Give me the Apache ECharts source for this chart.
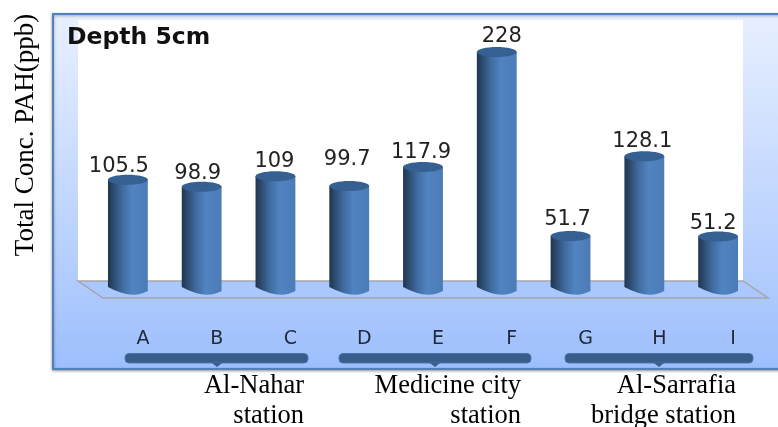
<!DOCTYPE html>
<html>
<head>
<meta charset="utf-8">
<style>
    html, body { margin: 0; padding: 0; background: #fff; }
    #chart { width: 778px; height: 427px; }
</style>
<script src="https://cdn.jsdelivr.net/npm/echarts@6/dist/echarts.min.js"></script>
</head>
<body>
<div id="chart"></div>
<script>
    var categories = ['A', 'B', 'C', 'D', 'E', 'F', 'G', 'H', 'I']
    var values = [105.5, 98.9, 109, 99.7, 117.9, 228, 51.7, 128.1, 51.2]
    var valueLabels = ['105.5', '98.9', '109', '99.7', '117.9', '228', '51.7', '128.1', '51.2']

    var serif = '"Liberation Serif", serif'
    var sans = '"DejaVu Sans", sans-serif'

    // the labels were placed by hand in the original, so each has its own nudge
    var labelDx = [-9, -4, -1, -2, -2, 5, -3, -2, -5]
    var labelDy = [-13, -13, -15, -26, -14, -15, -16, -15, -13]

    // 圆柱: body + top cap, from the axis scales
    function renderCylinder(params, api) {
        var i = api.value(0)
        var top = api.coord([i, api.value(1)])
        var base = api.coord([i, 0])
        var w = api.size([1, 0])[0] * 0.54
        var x = top[0] - w / 2
        var ry = 5
        var body = 'M' + x + ' ' + top[1] +
            'L' + x + ' ' + (base[1] - 3) +
            'Q' + (top[0] + 4) + ' ' + (base[1] + 2 * ry) + ' ' + (x + w) + ' ' + (base[1] + 1) +
            'L' + (x + w) + ' ' + top[1] + 'Z'
        return {
            type: 'group',
            children: [
                {
                    type: 'path',
                    shape: { pathData: body },
                    style: {
                        fill: new echarts.graphic.LinearGradient(0, 0, 1, 0, [
                            { offset: 0, color: '#20364f' },
                            { offset: 0.35, color: '#3f6a9e' },
                            { offset: 0.6, color: '#5083c0' },
                            { offset: 1, color: '#4c7cb8' }
                        ])
                    }
                },
                {
                    type: 'ellipse',
                    shape: { cx: top[0], cy: top[1], rx: w / 2, ry: ry },
                    style: { fill: '#376092' }
                },
                {
                    type: 'text',
                    style: {
                        x: top[0] + labelDx[i],
                        y: top[1] + labelDy[i],
                        text: valueLabels[i],
                        font: '21px ' + sans,
                        fill: '#222',
                        align: 'center',
                        verticalAlign: 'middle'
                    }
                }
            ]
        }
    }

    // 括号 under the category labels
    function bracket(x, w, notch) {
        return [
            {
                type: 'rect',
                shape: { x: x, y: 353.5, width: w, height: 9.5, r: 4 },
                style: { fill: '#385d8a', stroke: '#4a76a8', lineWidth: 1 },
                z: 2
            },
            {
                type: 'polygon',
                shape: { points: [[notch - 5, 363], [notch + 5, 363], [notch, 367]] },
                style: { fill: '#385d8a' },
                z: 2
            }
        ]
    }

    function outsideText(x, y, text) {
        return {
            type: 'text',
            z: 6,
            style: {
                x: x,
                y: y,
                text: text,
                font: '26.5px ' + serif,
                fill: '#000',
                align: 'right',
                verticalAlign: 'middle'
            }
        }
    }

    var chart = echarts.init(document.getElementById('chart'))
    chart.setOption({
        animation: false,
        grid: { left: 91, top: 20, width: 664, height: 270 },
        xAxis: {
            type: 'category',
            data: categories,
            axisLine: { show: false },
            axisTick: { show: false },
            axisLabel: {
                margin: 40,
                color: '#1f2a3a',
                fontFamily: sans,
                fontSize: 19,
                padding: [0, 0, 0, 30]
            }
        },
        yAxis: { type: 'value', min: 0, max: 258.6, show: false },
        graphic: [].concat(
            [
                {
                    type: 'rect',
                    z: 0,
                    shape: { x: 53, y: 14, width: 730, height: 355 },
                    style: {
                        fill: new echarts.graphic.LinearGradient(0, 0, 0, 1, [
                            { offset: 0, color: '#e8f0ff' },
                            { offset: 0.6, color: '#bcd3fe' },
                            { offset: 1, color: '#9dbefd' }
                        ]),
                        stroke: '#4f81bd',
                        lineWidth: 2,
                        shadowBlur: 3,
                        shadowColor: 'rgba(0,0,0,0.35)',
                        shadowOffsetY: 1
                    }
                },
                {
                    type: 'rect',
                    z: 1,
                    shape: { x: 78, y: 20, width: 665, height: 262 },
                    style: { fill: '#fff' }
                },
                {
                    type: 'polygon',
                    z: 1,
                    shape: { points: [[78, 281], [743, 281], [768, 298], [103, 298]] },
                    style: { fill: '#aac8fe', stroke: '#a6a6a6', lineWidth: 1.5 }
                }
            ],
            bracket(125, 183, 217),
            bracket(339, 192, 435),
            bracket(565, 188, 659),
            [
                {
                    type: 'text',
                    z: 6,
                    style: {
                        x: 67,
                        y: 38,
                        text: 'Depth 5cm',
                        font: 'bold 23.5px ' + sans,
                        fill: '#111',
                        verticalAlign: 'middle'
                    }
                },
                {
                    type: 'text',
                    z: 6,
                    x: 26,
                    y: 135,
                    rotation: Math.PI / 2,
                    style: {
                        x: 0,
                        y: 0,
                        text: 'Total Conc. PAH(ppb)',
                        font: '27px ' + serif,
                        fill: '#000',
                        align: 'center',
                        verticalAlign: 'middle'
                    }
                },
                outsideText(304, 386, 'Al-Nahar'),
                outsideText(304, 416, 'station'),
                outsideText(521, 386, 'Medicine city'),
                outsideText(521, 416, 'station'),
                outsideText(736, 386, 'Al-Sarrafia'),
                outsideText(736, 416, 'bridge station')
            ]
        ),
        series: [
            {
                type: 'custom',
                z: 5,
                renderItem: renderCylinder,
                encode: { x: 0, y: 1 },
                data: values.map(function (v, i) { return [i, v] })
            }
        ]
    })
</script>
</body>
</html>
